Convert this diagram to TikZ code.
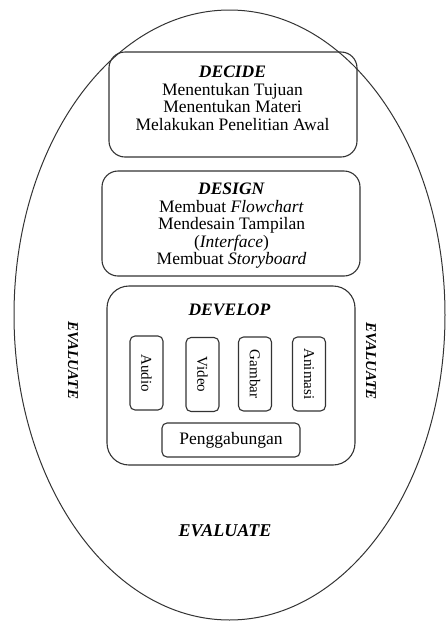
\documentclass[tikz,border=0pt]{standalone}
\usepackage{fontspec}
\setmainfont{Liberation Serif}
\usetikzlibrary{positioning}
\begin{document}
\begin{tikzpicture}[x=1pt,y=-1pt,line width=1pt,
  phase box/.style={draw=black!80,line width=1.1pt,rounded corners=16pt,inner sep=0pt},
  media box/.style={draw=black!80,line width=1.1pt,rounded corners=5pt,inner sep=0pt,
    minimum width=33pt,minimum height=74pt},
  phase text/.style={align=center,font=\fontsize{17.5}{17.5}\selectfont},
  media text/.style={rotate=-90,font=\fontsize{15}{15}\selectfont},
  eval text/.style={font=\fontsize{15}{15}\selectfont\bfseries\itshape}]
\useasboundingbox (0,0) rectangle (446,622);

% Outer ellipse
\draw[draw=black!80] (229.5,315) ellipse [x radius=215.5pt,y radius=305pt];

% Decide
  \node[phase box,minimum width=248pt,minimum height=105pt] (decide) at (233,104.5) {};
  \node[phase text] (decide text) at (232.5,98.5)
    {\textbf{\textit{DECIDE}}\\Menentukan Tujuan\\Menentukan Materi\\Melakukan Penelitian Awal};

% Design
  \node[phase box,minimum width=258pt,minimum height=105pt] (design) at (231,223.5) {};
  \node[phase text] (design text) at (231.5,226)
    {\textbf{\textit{DESIGN}}\\Membuat \textit{Flowchart}\\Mendesain Tampilan\\(\textit{Interface})\\Membuat \textit{Storyboard}};

% Develop
  \node[phase box,rounded corners=22pt,minimum width=248pt,minimum height=179pt] (develop) at (231,375.5) {};
  \node[phase text] (develop text) at (229.5,310) {\textbf{\textit{DEVELOP}}};

  \node[media box] (audio) at (146.5,373) {};
  \node[media box] (video) at (202.5,374.5) {};
  \node[media box] (gambar) at (255,374) {};
  \node[media box] (animasi) at (309,374) {};
  \node[media text] at (audio) {Audio};
  \node[media text] at (video) {Video};
  \node[media text] at (gambar) {Gambar};
  \node[media text] at (animasi) {Animasi};

  \node[media box,minimum width=138pt,minimum height=34pt,phase text] (penggabungan) at (231,440) {Penggabungan};

% Evaluate
  \node[eval text,rotate=-90] (evaluate left) at (73,360.5) {EVALUATE};
  \node[eval text,rotate=-90] (evaluate right) at (371,361) {EVALUATE};
  \node[eval text,font=\fontsize{18}{18}\selectfont\bfseries\itshape] (evaluate bottom) at (225,531) {EVALUATE};

\end{tikzpicture}
\end{document}
